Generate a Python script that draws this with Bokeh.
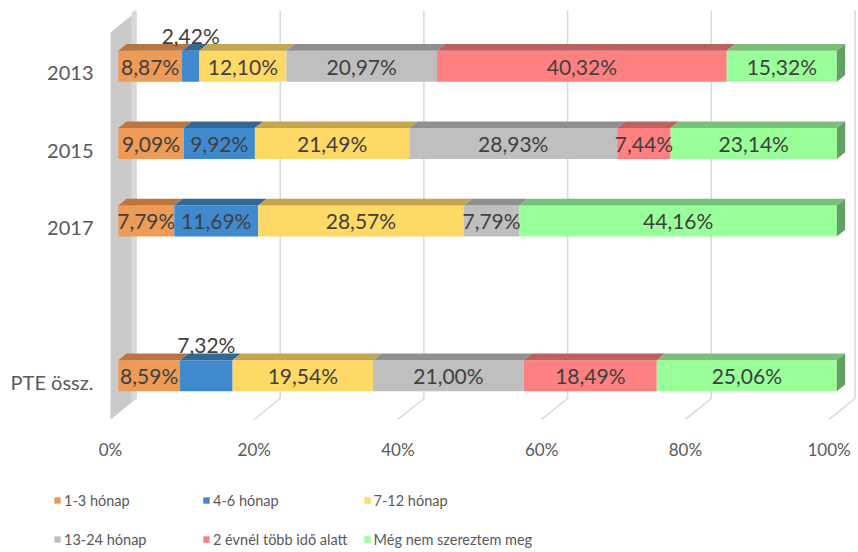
from bokeh.plotting import figure
from bokeh.models import (Range1d, FixedTicker, Legend, LegendItem, ColumnDataSource,
                          PrintfTickFormatter)
from bokeh.embed import file_html
from bokeh.resources import INLINE
from bokeh.core.properties import value

# ---------------- data ----------------
axis_categories = ["2013", "2015", "2017", "", "PTE össz."]
bar_categories = ["2013", "2015", "2017", "PTE össz."]
series_names = ["1-3 hónap", "4-6 hónap", "7-12 hónap", "13-24 hónap",
                "2 évnél több idő alatt", "Még nem szereztem meg"]
s_1_3 = [8.87, 9.09, 7.79, 8.59]
s_4_6 = [2.42, 9.92, 11.69, 7.32]
s_7_12 = [12.10, 21.49, 28.57, 19.54]
s_13_24 = [20.97, 28.93, 7.79, 21.00]
s_2ev = [40.32, 7.44, 0.0, 18.49]
s_meg_nem = [15.32, 23.14, 44.16, 25.06]
x_ticks = [0, 20, 40, 60, 80, 100]

series_values = [s_1_3, s_4_6, s_7_12, s_13_24, s_2ev, s_meg_nem]

# ---------------- style ----------------
front_colors = ["#ED9B57", "#3F89CF", "#FFD966", "#BFBFBF", "#FF8080", "#99FF99"]
top_colors = ["#BC7441", "#326896", "#C4A64E", "#8F8F8F", "#C05F5F", "#78C078"]
side_color = "#64A064"
raised = {("2013", 1), ("PTE össz.", 1)}   # labels drawn above the bar
FONT = "Lato"

# oblique 3-D projection (data units)
DX = 26 / 7.185      # depth vector, x
DY = -21 / 77.4      # depth vector, y
D1, D2 = 0.30, 0.62  # bar front / back depth
HALF = 0.20          # half bar thickness
FLOOR_Y = 4.483
TOP_Y = -0.517

p = figure(width=858, height=552, output_backend="svg", toolbar_location=None,
           x_range=Range1d(-12.248, 104.1), y_range=Range1d(6.202, -0.801),
           min_border_left=22, min_border_right=0, min_border_top=10,
           min_border_bottom=0, title=None)
p.outline_line_color = None
p.xgrid.visible = False
p.ygrid.visible = False

# side wall
p.patch([0, DX, DX, 0], [FLOOR_Y, FLOOR_Y + DY, TOP_Y + DY, TOP_Y],
        fill_color="#CACACA", line_color=None)
p.patch([0.8 * DX, DX, DX, 0.8 * DX],
        [FLOOR_Y + 0.8 * DY, FLOOR_Y + DY, TOP_Y + DY - 0.03, TOP_Y + 0.8 * DY - 0.03],
        fill_color="#D8D8D8", line_color=None)

# gridlines: back wall + floor
gx, gy = [], []
for t in x_ticks[1:]:
    gx.append([t, t + DX, t + DX])
    gy.append([FLOOR_Y, FLOOR_Y + DY, TOP_Y + DY - 0.03])
p.multi_line(gx, gy, line_color="#D9D9D9", line_width=1.5)

# bars
legend_items = []
lab_x, lab_y, lab_t = [], [], []
ypos = [axis_categories.index(c) for c in bar_categories]
cum = [0.0] * len(bar_categories)
for k, (name, vals) in enumerate(zip(series_names, series_values)):
    left = [c + D1 * DX for c in cum]
    right = [c + v + D1 * DX for c, v in zip(cum, vals)]
    yc = [y + D1 * DY for y in ypos]
    r = p.hbar(y=yc, left=left, right=right, height=2 * HALF,
               fill_color=front_colors[k], line_color=None)
    legend_items.append(LegendItem(label=name, renderers=[r]))
    txs, tys = [], []
    for i, v in enumerate(vals):
        if v <= 0:
            continue
        ytop = yc[i] - HALF
        dd = D2 - D1
        txs.append([left[i], right[i], right[i] + dd * DX, left[i] + dd * DX])
        tys.append([ytop, ytop, ytop + dd * DY, ytop + dd * DY])
        lx = left[i] + v / 2
        ly = yc[i] - (0.40 if (bar_categories[i], k) in raised else 0.0)
        lab_x.append(lx)
        lab_y.append(ly)
        lab_t.append(f"{v:.2f}%".replace(".", ","))
    p.patches(txs, tys, fill_color=top_colors[k], line_color=None)
    if k == len(series_names) - 1:
        sxs, sys_ = [], []
        dd = D2 - D1
        for i in range(len(vals)):
            ytop, ybot = yc[i] - HALF, yc[i] + HALF
            sxs.append([right[i], right[i] + dd * DX, right[i] + dd * DX, right[i]])
            sys_.append([ytop, ytop + dd * DY, ybot + dd * DY, ybot])
        p.patches(sxs, sys_, fill_color=side_color, line_color=None)
    cum = [c + v for c, v in zip(cum, vals)]

p.text(x="x", y="y", text="t", source=ColumnDataSource(dict(x=lab_x, y=lab_y, t=lab_t)),
       text_align="center", text_baseline="middle", text_color="#404040",
       text_font=value(FONT), text_font_size="21px")

# axes
p.xaxis.ticker = FixedTicker(ticks=x_ticks)
p.xaxis.formatter = PrintfTickFormatter(format="%d%%")
p.xaxis.major_label_standoff = -114
p.yaxis.ticker = FixedTicker(ticks=[i for i, c in enumerate(axis_categories) if c])
p.yaxis.major_label_overrides = {i: c for i, c in enumerate(axis_categories) if c}
p.yaxis.major_label_standoff = -71
for ax in (p.xaxis[0], p.yaxis[0]):
    ax.axis_line_color = None
    ax.major_tick_line_color = None
    ax.minor_tick_line_color = None
    ax.major_tick_out = 0
    ax.major_tick_in = 0
    ax.minor_tick_out = 0
    ax.major_label_text_color = "#595959"
    ax.major_label_text_font = FONT
p.xaxis.major_label_text_font_size = "17px"
p.yaxis.major_label_text_font_size = "20px"

legend = Legend(items=legend_items, location=(31, 1), orientation="horizontal",
                ncols=3, glyph_width=8, glyph_height=8, label_standoff=3,
                label_width=123, label_height=24, spacing=15, padding=0, margin=0,
                border_line_color=None, background_fill_alpha=0,
                label_text_font=FONT, label_text_font_size="14.5px",
                label_text_color="#595959")
p.add_layout(legend, "center")

open("out.html", "w").write(file_html(p, INLINE))
